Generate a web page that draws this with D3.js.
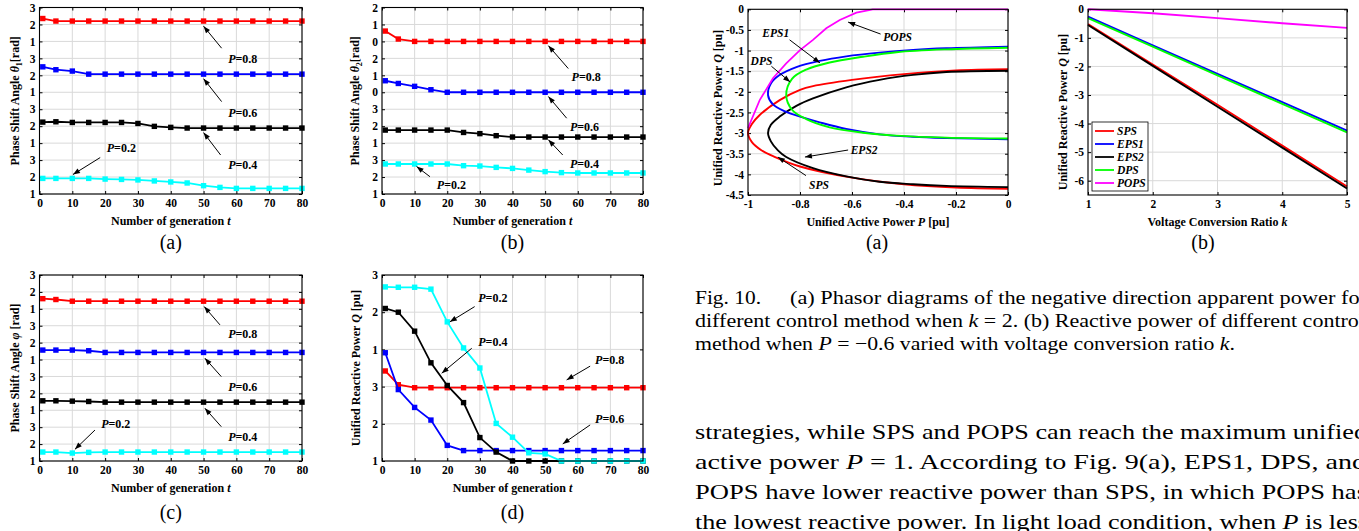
<!DOCTYPE html>
<html lang="en">
<head>
<meta charset="UTF-8" />
<title>Fig. 9 / Fig. 10</title>
<script src="https://d3js.org/d3.v7.min.js"></script>
<style>
  body { margin: 0; background: #fff; }
  svg text { font-family: "Liberation Serif", "Times New Roman", serif; fill: #000; }
  .tick text { font-size: 11.5px; font-weight: bold; }
  .axis path { display: none; }
  .axis line { stroke: #000; }
  .grid line { stroke: #d9d9d9; stroke-width: 1; }
  .title { font-size: 12px; font-weight: bold; }
  .note { font-size: 12px; font-weight: bold; }
  .tag { font-size: 11.5px; font-weight: bold; font-style: italic; }
  .sub { font-size: 20px; }
</style>
</head>
<body>
<svg id="page" width="1359" height="531"></svg>
<script>
// generation index of the optimisation runs
const generations = [1, 5, 10, 15, 20, 25, 30, 35, 40, 45, 50, 55, 60, 65, 70, 75, 80];

// Fig. 9(a) theta1, in tick-row units (bottom row = 0)
const theta1P08 = [10.35, 10.2, 10.2, 10.2, 10.2, 10.2, 10.2, 10.2, 10.2, 10.2, 10.2, 10.2, 10.2, 10.2, 10.2, 10.2, 10.2];
const theta1P06 = [7.5, 7.33, 7.25, 7.07, 7.07, 7.07, 7.07, 7.07, 7.07, 7.07, 7.07, 7.07, 7.07, 7.07, 7.07, 7.07, 7.07];
const theta1P04 = [4.24, 4.26, 4.22, 4.22, 4.22, 4.22, 4.16, 3.99, 3.93, 3.89, 3.89, 3.89, 3.89, 3.89, 3.89, 3.89, 3.89];
const theta1P02 = [0.92, 0.92, 0.92, 0.92, 0.88, 0.86, 0.83, 0.77, 0.71, 0.65, 0.49, 0.39, 0.33, 0.33, 0.33, 0.33, 0.33];

// Fig. 9(b) theta2
const theta2P08 = [9.61, 9.14, 9.0, 9.0, 9.0, 9.0, 9.0, 9.0, 9.0, 9.0, 9.0, 9.0, 9.0, 9.0, 9.0, 9.0, 9.0];
const theta2P06 = [6.68, 6.52, 6.35, 6.15, 6.0, 6.0, 6.0, 6.0, 6.0, 6.0, 6.0, 6.0, 6.0, 6.0, 6.0, 6.0, 6.0];
const theta2P04 = [3.77, 3.77, 3.77, 3.77, 3.77, 3.63, 3.56, 3.44, 3.36, 3.36, 3.36, 3.36, 3.36, 3.36, 3.36, 3.36, 3.36];
const theta2P02 = [1.77, 1.77, 1.77, 1.77, 1.77, 1.67, 1.65, 1.57, 1.51, 1.41, 1.32, 1.26, 1.24, 1.24, 1.24, 1.24, 1.24];

// Fig. 9(c) phi
const phiP08 = [9.6, 9.55, 9.45, 9.45, 9.45, 9.45, 9.45, 9.45, 9.45, 9.45, 9.45, 9.45, 9.45, 9.45, 9.45, 9.45, 9.45];
const phiP06 = [6.56, 6.56, 6.56, 6.52, 6.42, 6.42, 6.42, 6.42, 6.42, 6.42, 6.42, 6.42, 6.42, 6.42, 6.42, 6.42, 6.42];
const phiP04 = [3.56, 3.56, 3.54, 3.52, 3.48, 3.48, 3.48, 3.48, 3.48, 3.48, 3.48, 3.48, 3.48, 3.48, 3.48, 3.48, 3.48];
const phiP02 = [0.53, 0.53, 0.47, 0.51, 0.53, 0.53, 0.53, 0.53, 0.53, 0.53, 0.53, 0.53, 0.53, 0.53, 0.53, 0.53, 0.53];

// Fig. 9(d) unified reactive power Q
const qP02 = [4.68, 4.67, 4.67, 4.62, 3.74, 3.04, 2.5, 1.01, 0.64, 0.22, 0.19, 0, 0, 0, 0, 0, 0];
const qP04 = [4.1, 4.0, 3.49, 2.64, 2.03, 1.57, 0.63, 0.24, 0, 0, 0, 0, 0, 0, 0, 0, 0];
const qP06 = [2.91, 1.92, 1.44, 1.1, 0.42, 0.28, 0.28, 0.28, 0.28, 0.28, 0.28, 0.28, 0.28, 0.28, 0.28, 0.28, 0.28];
const qP08 = [2.42, 2.05, 1.97, 1.97, 1.97, 1.97, 1.97, 1.97, 1.97, 1.97, 1.97, 1.97, 1.97, 1.97, 1.97, 1.97, 1.97];

// y tick labels, bottom to top
const labelsA = ["1", "2", "3", "1", "2", "3", "1", "2", "3", "1", "2", "3"];
const labelsB = ["1", "2", "3", "1", "2", "3", "0", "1", "2", "0", "1", "2"];
const labelsD = ["1", "2", "3", "1", "2", "3"];

// Fig. 10(a): [P, Q] (upper branch -> vertex -> lower branch)
const spsLoci = [[0, -1.45], [-0.2, -1.48], [-0.4, -1.57], [-0.6, -1.71], [-0.75, -1.86], [-0.8, -1.95], [-0.878, -2.2], [-0.955, -2.56], [-0.985, -2.78], [-1, -3.0], [-0.985, -3.22], [-0.95, -3.41], [-0.9, -3.57], [-0.8, -3.81], [-0.6, -4.08], [-0.4, -4.24], [-0.2, -4.32], [0, -4.35]];
const eps2Loci = [[0, -1.49], [-0.237, -1.52], [-0.365, -1.59], [-0.494, -1.71], [-0.622, -1.89], [-0.75, -2.16], [-0.814, -2.34], [-0.878, -2.6], [-0.912, -2.8], [-0.923, -3.0], [-0.912, -3.2], [-0.885, -3.42], [-0.853, -3.58], [-0.75, -3.85], [-0.622, -4.05], [-0.494, -4.18], [-0.365, -4.24], [-0.237, -4.28], [0, -4.31]];
const eps1Loci = [[0, -0.905], [-0.237, -0.945], [-0.365, -0.985], [-0.494, -1.05], [-0.622, -1.14], [-0.724, -1.25], [-0.814, -1.4], [-0.88, -1.6], [-0.912, -1.8], [-0.923, -2.08], [-0.905, -2.3], [-0.86, -2.47], [-0.79, -2.62], [-0.724, -2.74], [-0.622, -2.9], [-0.494, -3.03], [-0.365, -3.09], [-0.237, -3.12], [0, -3.15]];
const dpsLoci = [[0, -0.93], [-0.237, -0.97], [-0.429, -1.04], [-0.558, -1.15], [-0.686, -1.29], [-0.776, -1.46], [-0.83, -1.68], [-0.853, -2.08], [-0.83, -2.44], [-0.776, -2.66], [-0.686, -2.86], [-0.558, -2.99], [-0.429, -3.06], [-0.237, -3.11], [0, -3.13]];
const popsLoci = [[-1, -2.88], [-0.955, -2.2], [-0.904, -1.67], [-0.853, -1.31], [-0.8, -0.99], [-0.75, -0.74], [-0.699, -0.46], [-0.647, -0.26], [-0.583, -0.08], [-0.52, 0], [-0.3, 0], [0, 0]];

// Fig. 10(b): Q versus voltage conversion ratio k at P = -0.6
const ratioK = [1, 2, 3, 4, 5];
const qSPS = [-0.52, -1.93, -3.34, -4.77, -6.2];
const qEPS1 = [-0.26, -1.26, -2.26, -3.25, -4.25];
const qEPS2 = [-0.55, -1.98, -3.41, -4.84, -6.27];
const qDPS = [-0.31, -1.31, -2.31, -3.31, -4.31];
const qPOPS = [0, -0.14, -0.31, -0.49, -0.65];
const methodNames = ["SPS", "EPS1", "EPS2", "DPS", "POPS"];

const svg = d3.select("#page");

function rich(sel, segs) {
  segs.forEach(s => {
    const t = sel.append("tspan").text(s[0]);
    if (s[1] === "i") t.style("font-style", "italic");
    if (s[1] === "sub") t.attr("font-size", 8).attr("dy", 3);
    if (s[1] === "up") t.attr("dy", -3);
  });
  return sel;
}

function arrow(g, x1, y1, x2, y2) {
  g.append("line").attr("x1", x1).attr("y1", y1).attr("x2", x2).attr("y2", y2)
    .attr("stroke", "#000").attr("stroke-width", 1);
  const a = Math.atan2(y2 - y1, x2 - x1), L = 7, W = 2.6;
  const bx = x2 - L * Math.cos(a), by = y2 - L * Math.sin(a);
  g.append("path")
    .attr("d", `M${x2},${y2}L${bx - W * Math.sin(a)},${by + W * Math.cos(a)}L${bx + W * Math.sin(a)},${by - W * Math.cos(a)}Z`)
    .attr("fill", "#000");
}

function drawPanel(o) {
  const g = svg.append("g");
  const x = d3.scaleLinear().domain(o.xDomain).range([o.left, o.right]);
  const y = d3.scaleLinear().domain(o.yDomain).range([o.bottom, o.top]);

  // grid
  const grid = g.append("g").attr("class", "grid");
  grid.selectAll(".gx").data(o.xTicks).join("line")
    .attr("x1", d => x(d)).attr("x2", d => x(d)).attr("y1", o.top).attr("y2", o.bottom);
  grid.selectAll(".gy").data(o.yTicks).join("line")
    .attr("y1", d => y(d)).attr("y2", d => y(d)).attr("x1", o.left).attr("x2", o.right);

  // axes, ticks inside on all sides
  g.append("g").attr("class", "axis").attr("transform", `translate(0,${o.bottom})`)
    .call(d3.axisBottom(x).tickValues(o.xTicks).tickSizeInner(-3).tickSizeOuter(0).tickPadding(5).tickFormat(o.xFormat));
  g.append("g").attr("class", "axis").attr("transform", `translate(0,${o.top})`)
    .call(d3.axisTop(x).tickValues(o.xTicks).tickSizeInner(-3).tickSizeOuter(0).tickFormat(""));
  g.append("g").attr("class", "axis").attr("transform", `translate(${o.left},0)`)
    .call(d3.axisLeft(y).tickValues(o.yTicks).tickSizeInner(-3).tickSizeOuter(0).tickPadding(4).tickFormat(o.yFormat));
  g.append("g").attr("class", "axis").attr("transform", `translate(${o.right},0)`)
    .call(d3.axisRight(y).tickValues(o.yTicks).tickSizeInner(-3).tickSizeOuter(0).tickFormat(""));

  // series
  o.series.forEach(s => {
    const pts = s.points;
    g.append("path").datum(pts)
      .attr("fill", "none").attr("stroke", s.color).attr("stroke-width", s.width || 1.8)
      .attr("d", d3.line().x(d => x(d[0])).y(d => y(d[1])).curve(s.curve || d3.curveLinear));
    if (s.markers) {
      g.selectAll(null).data(pts).join("rect")
        .attr("x", d => x(d[0]) - 2.7).attr("y", d => y(d[1]) - 2.7)
        .attr("width", 5.4).attr("height", 5.4).attr("fill", s.color);
    }
  });

  g.append("rect").attr("x", o.left).attr("y", o.top)
    .attr("width", o.right - o.left).attr("height", o.bottom - o.top)
    .attr("fill", "none").attr("stroke", "#000").attr("stroke-width", 1.1);

  // annotations (positions in data units)
  (o.notes || []).forEach(n => {
    arrow(g, x(n.tail[0]), y(n.tail[1]), x(n.tip[0]), y(n.tip[1]));
    const t = g.append("text").attr("class", n.cls || "note")
      .attr("x", x(n.text[0])).attr("y", y(n.text[1]));
    if (n.cls === "tag") t.text(n.label);
    else rich(t, [["P", "i"], ["=" + n.label, ""]]);
  });

  // titles
  g.append("text").attr("class", "title").attr("text-anchor", "middle")
    .attr("x", (o.left + o.right) / 2).attr("y", o.bottom + 31)
    .call(t => rich(t, o.xTitle));
  g.append("text").attr("class", "title").attr("text-anchor", "middle")
    .attr("transform", `translate(${o.yTitleX},${o.yTitleY || (o.top + o.bottom) / 2}) rotate(-90)`)
    .call(t => rich(t, o.yTitle));
  g.append("text").attr("class", "sub").attr("text-anchor", "middle")
    .attr("x", o.subX || (o.left + o.right) / 2).attr("y", o.subY).text(o.sub);

  return { g, x, y };
}

const zipGen = v => generations.map((t, i) => [t, v[i]]);
const genTitle = [["Number of generation  ", ""], ["t", "i"]];
const fmtNum = d => String(+d.toFixed(2));

function stackSeries(r, b, k, c) {
  return [
    { points: zipGen(c), color: "#00ffff", markers: true },
    { points: zipGen(k), color: "#000000", markers: true },
    { points: zipGen(b), color: "#0000ff", markers: true },
    { points: zipGen(r), color: "#ff0000", markers: true }
  ];
}

// Fig. 9(a)
drawPanel({
  left: 39.5, right: 302, top: 7.5, bottom: 194,
  xDomain: [0, 80], xTicks: d3.range(0, 81, 10), xFormat: d => d,
  yDomain: [0, 11], yTicks: d3.range(12), yFormat: d => labelsA[d],
  series: stackSeries(theta1P08, theta1P06, theta1P04, theta1P02),
  notes: [
    { label: "0.8", tip: [50, 9.9], tail: [55.5, 8.6], text: [57.5, 7.7] },
    { label: "0.6", tip: [50, 6.8], tail: [55.5, 5.45], text: [57.5, 4.55] },
    { label: "0.4", tip: [50, 3.62], tail: [55.2, 2.3], text: [57.5, 1.5] },
    { label: "0.2", tip: [10.2, 1.15], tail: [18.5, 2.15], text: [20.5, 2.5] }
  ],
  xTitle: genTitle,
  yTitle: [["Phase Shift Angle  ", ""], ["θ", "i"], ["1", "sub"], ["[rad]", "up"]],
  yTitleX: 19, sub: "(a)", subY: 249
});

// Fig. 9(b)
drawPanel({
  left: 382, right: 643, top: 7.5, bottom: 194,
  xDomain: [0, 80], xTicks: d3.range(0, 81, 10), xFormat: d => d,
  yDomain: [0, 11], yTicks: d3.range(12), yFormat: d => labelsB[d],
  series: stackSeries(theta2P08, theta2P06, theta2P04, theta2P02),
  notes: [
    { label: "0.8", tip: [51, 8.75], tail: [57.1, 7.4], text: [58.1, 6.65] },
    { label: "0.6", tip: [51, 5.75], tail: [56.6, 4.47], text: [57.6, 3.72] },
    { label: "0.4", tip: [51, 3.2], tail: [55.4, 2.3], text: [57.6, 1.53] },
    { label: "0.2", tip: [10.6, 1.62], tail: [14.7, 1.02], text: [16.8, 0.3] }
  ],
  xTitle: genTitle,
  yTitle: [["Phase Shift Angle  ", ""], ["θ", "i"], ["2", "sub"], ["[rad]", "up"]],
  yTitleX: 359, sub: "(b)", subY: 249
});

// Fig. 9(c)
drawPanel({
  left: 39.5, right: 302, top: 275, bottom: 461,
  xDomain: [0, 80], xTicks: d3.range(0, 81, 10), xFormat: d => d,
  yDomain: [0, 11], yTicks: d3.range(12), yFormat: d => labelsA[d],
  series: stackSeries(phiP08, phiP06, phiP04, phiP02),
  notes: [
    { label: "0.8", tip: [50.2, 9.13], tail: [55, 8.05], text: [57.5, 7.28] },
    { label: "0.6", tip: [50.4, 6.08], tail: [55.4, 4.99], text: [57.5, 4.14] },
    { label: "0.4", tip: [50.4, 3.12], tail: [55.4, 2.03], text: [57.5, 1.18] },
    { label: "0.2", tip: [10.8, 0.69], tail: [16.9, 1.83], text: [18.8, 1.95] }
  ],
  xTitle: genTitle,
  yTitle: [["Phase Shift Angle  ", ""], ["φ", "i"], [" [rad]", ""]],
  yTitleX: 19, sub: "(c)", subY: 519
});

// Fig. 9(d)
drawPanel({
  left: 382, right: 643, top: 275, bottom: 461,
  xDomain: [0, 80], xTicks: d3.range(0, 81, 10), xFormat: d => d,
  yDomain: [0, 5], yTicks: d3.range(6), yFormat: d => labelsD[d],
  series: [
    { points: zipGen(qP08), color: "#ff0000", markers: true },
    { points: zipGen(qP06), color: "#0000ff", markers: true },
    { points: zipGen(qP04), color: "#000000", markers: true },
    { points: zipGen(qP02), color: "#00ffff", markers: true }
  ],
  notes: [
    { label: "0.2", tip: [20.8, 3.74], tail: [28.4, 4.15], text: [29.5, 4.28] },
    { label: "0.4", tip: [18.3, 2.36], tail: [27.5, 3.03], text: [29.5, 3.09] },
    { label: "0.8", tip: [56.6, 2.18], tail: [63.8, 2.55], text: [65.3, 2.61] },
    { label: "0.6", tip: [55.4, 0.46], tail: [63.8, 0.97], text: [65.3, 1.01] }
  ],
  xTitle: genTitle,
  yTitle: [["Unified Reactive Power  ", ""], ["Q", "i"], [" [pu]", ""]],
  yTitleX: 360, sub: "(d)", subY: 519
});

// Fig. 10(a)
drawPanel({
  left: 748, right: 1008, top: 9.3, bottom: 195,
  xDomain: [-1, 0], xTicks: [-1, -0.8, -0.6, -0.4, -0.2, 0], xFormat: fmtNum,
  yDomain: [-4.5, 0], yTicks: [0, -0.5, -1, -1.5, -2, -2.5, -3, -3.5, -4, -4.5], yFormat: fmtNum,
  series: [
    { points: spsLoci, color: "#ff0000", curve: d3.curveCatmullRom, width: 1.9 },
    { points: eps2Loci, color: "#000000", curve: d3.curveCatmullRom, width: 1.9 },
    { points: eps1Loci, color: "#0000ff", curve: d3.curveCatmullRom, width: 1.9 },
    { points: dpsLoci, color: "#00ff00", curve: d3.curveCatmullRom, width: 1.9 },
    { points: popsLoci, color: "#ff00ff", width: 1.7 }
  ],
  notes: [
    { cls: "tag", label: "POPS", tip: [-0.615, -0.31], tail: [-0.49, -0.6], text: [-0.48, -0.77] },
    { cls: "tag", label: "EPS1", tip: [-0.723, -1.3], tail: [-0.84, -0.74], text: [-0.945, -0.68] },
    { cls: "tag", label: "DPS", tip: [-0.838, -1.76], tail: [-0.91, -1.38], text: [-0.99, -1.36] },
    { cls: "tag", label: "EPS2", tip: [-0.781, -3.58], tail: [-0.615, -3.41], text: [-0.605, -3.5] },
    { cls: "tag", label: "SPS", tip: [-0.885, -3.58], tail: [-0.777, -4.03], text: [-0.765, -4.36] }
  ],
  xTitle: [["Unified Active Power  ", ""], ["P", "i"], [" [pu]", ""]],
  yTitle: [["Unified Reactive Power  ", ""], ["Q", "i"], [" [pu]", ""]],
  yTitleX: 722, yTitleY: 108, sub: "(a)", subX: 877, subY: 249
});

// Fig. 10(b)
const colors10 = ["#ff0000", "#0000ff", "#000000", "#00ff00", "#ff00ff"];
const qByMethod = [qSPS, qEPS1, qEPS2, qDPS, qPOPS];
const p10b = drawPanel({
  left: 1088, right: 1347, top: 9.3, bottom: 195,
  xDomain: [1, 5], xTicks: [1, 2, 3, 4, 5], xFormat: d => d,
  yDomain: [-6.5, 0], yTicks: [0, -1, -2, -3, -4, -5, -6], yFormat: fmtNum,
  series: qByMethod.map((q, i) => ({ points: ratioK.map((k, j) => [k, q[j]]), color: colors10[i], width: 1.9 })),
  xTitle: [["Voltage Conversion Ratio  ", ""], ["k", "i"]],
  yTitle: [["Unified Reactive Power  ", ""], ["Q", "i"], [" [pu]", ""]],
  yTitleX: 1067, yTitleY: 112, sub: "(b)", subX: 1203, subY: 249
});

// legend
const lg = p10b.g.append("g").attr("transform", "translate(1092,122)");
lg.append("rect").attr("width", 56).attr("height", 69).attr("fill", "#fff").attr("stroke", "#000").attr("stroke-width", 0.8);
methodNames.forEach((name, i) => {
  const yy = 9 + i * 13;
  lg.append("line").attr("x1", 3).attr("x2", 22).attr("y1", yy).attr("y2", yy)
    .attr("stroke", colors10[i]).attr("stroke-width", 1.8);
  lg.append("text").attr("class", "tag").attr("font-size", 11).attr("x", 25).attr("y", yy + 4).text(name);
});

// caption and body text
function para(x, y, size, len, segs) {
  const t = svg.append("text").attr("x", x).attr("y", y).attr("font-size", size);
  rich(t, segs);
  if (len) t.attr("textLength", len).attr("lengthAdjust", "spacingAndGlyphs");
  return t;
}
para(695, 304, 19.5, 66, [["Fig. 10.", ""]]);
para(790, 304, 19.5, 577, [["(a) Phasor diagrams of the negative direction apparent power for", ""]]);
para(695, 327, 19.5, 670, [["different control method when ", ""], ["k", "i"], [" = 2. (b) Reactive power of different control", ""]]);
para(695, 350, 19.5, 540, [["method when ", ""], ["P", "i"], [" = −0.6 varied with voltage conversion ratio ", ""], ["k", "i"], [".", ""]]);

para(695, 439, 21.7, 672, [["strategies, while SPS and POPS can reach the maximum unified", ""]]);
para(695, 469, 21.7, 671, [["active power ", ""], ["P", "i"], [" = 1. According to Fig. 9(a), EPS1, DPS, and", ""]]);
para(695, 499, 21.7, 672, [["POPS have lower reactive power than SPS, in which POPS has", ""]]);
para(695, 529, 21.7, 673, [["the lowest reactive power. In light load condition, when ", ""], ["P", "i"], [" is less", ""]]);
</script>
</body>
</html>
